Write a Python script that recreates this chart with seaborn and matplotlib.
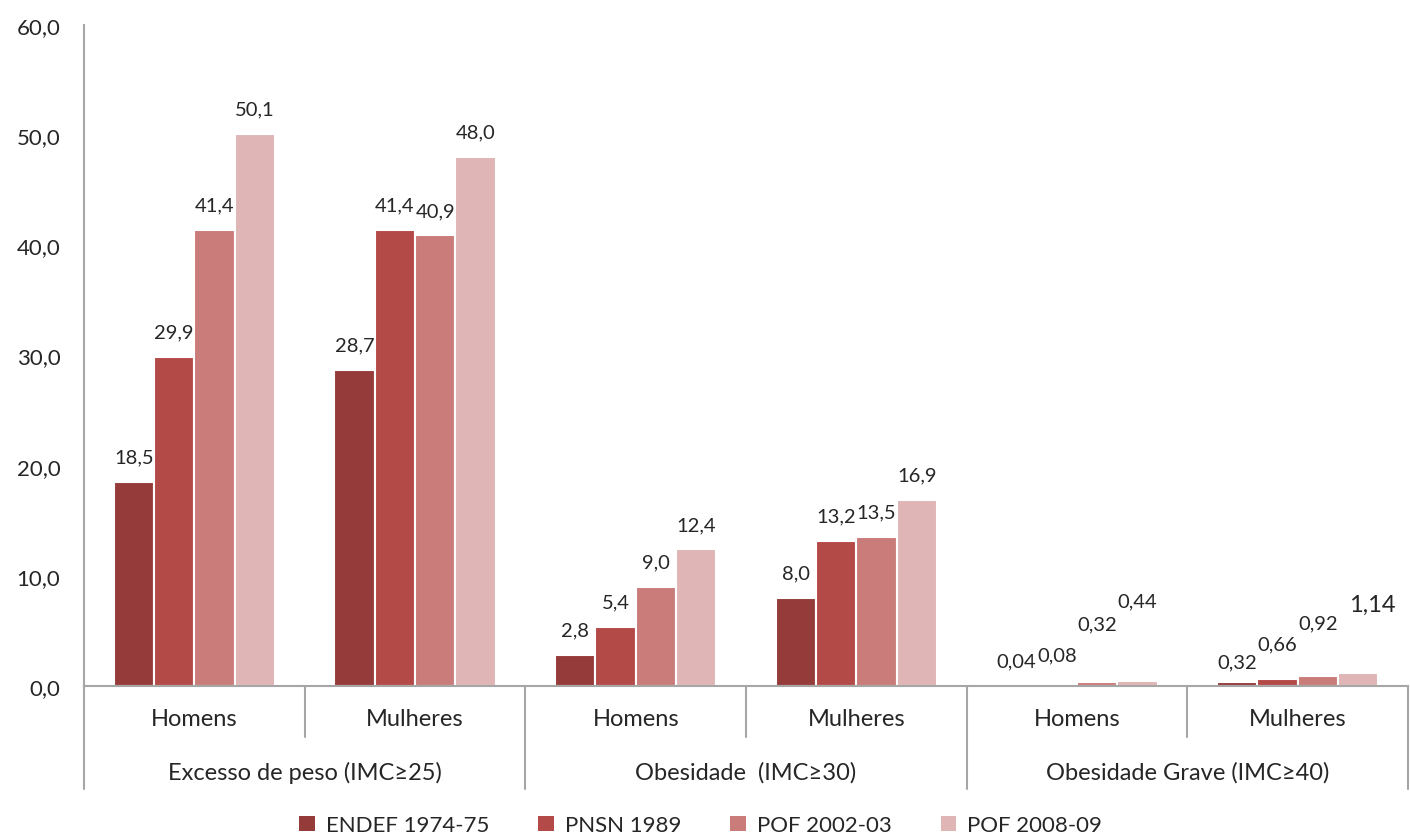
import pandas as pd
import seaborn as sns
import matplotlib.pyplot as plt
from matplotlib.ticker import FuncFormatter
from matplotlib.patches import Patch

grupos = ["Excesso de peso (IMC≥25)", "Obesidade  (IMC≥30)", "Obesidade Grave (IMC≥40)"]
sexos = ["Homens", "Mulheres"]
series = ["ENDEF 1974-75", "PNSN 1989", "POF 2002-03", "POF 2008-09"]
cores = ["#953B3A", "#B44A48", "#CA7C7B", "#DFB5B5"]

# one list per series, order: excesso H, excesso M, obes H, obes M, grave H, grave M
endef = [18.5, 28.7, 2.8, 8.0, 0.04, 0.32]
pnsn = [29.9, 41.4, 5.4, 13.2, 0.08, 0.66]
pof02 = [41.4, 40.9, 9.0, 13.5, 0.32, 0.92]
pof08 = [50.1, 48.0, 12.4, 16.9, 0.44, 1.14]

slots = [f"{g}|{s}" for g in grupos for s in sexos]
rows = []
for nome, vals in zip(series, [endef, pnsn, pof02, pof08]):
    for slot, v in zip(slots, vals):
        rows.append({"slot": slot, "serie": nome, "valor": v})
df = pd.DataFrame(rows)

sns.set_style("white")
plt.rcParams["font.family"] = ["Lato", "DejaVu Sans"]

fig = plt.figure(figsize=(14.1, 8.37), dpi=100)
ax = fig.add_axes([0.0596, 0.1792, 0.9390, 0.7898])

sns.barplot(data=df, x="slot", y="valor", hue="serie", order=slots,
            hue_order=series, palette=cores, width=0.73, edgecolor="white",
            linewidth=1.5, saturation=1, ax=ax)
ax.get_legend().remove()

ax.set_xlim(-0.5, 5.5)
ax.set_ylim(0, 60)
ax.set_yticks(range(0, 61, 10))
ax.yaxis.set_major_formatter(FuncFormatter(lambda v, p: f"{v:.1f}".replace(".", ",")))
ax.tick_params(axis="y", direction="out", length=7, color="#A6A6A6", labelsize=16, pad=10)
ax.tick_params(axis="x", length=0, labelbottom=False)
ax.set_xlabel("")
ax.set_ylabel("")
for sp in ["top", "right"]:
    ax.spines[sp].set_visible(False)
for sp in ["left", "bottom"]:
    ax.spines[sp].set_color("#A6A6A6")
    ax.spines[sp].set_linewidth(1.5)

# data labels (offsets in points above bar top)
pad_grave = [[18, 22, 42, 58], [15, 25, 38, 50]]
for j, cont in enumerate(ax.containers):
    for i, bar in enumerate(cont):
        v = bar.get_height()
        x = bar.get_x() + bar.get_width() / 2
        if i >= 4:
            txt = f"{v:.2f}".replace(".", ",")
            dy = pad_grave[i - 4][j]
        else:
            txt = f"{v:.1f}".replace(".", ",")
            dy = 18
        dx, fs = 0, 14.5
        if i == 5 and j == 3:
            dx, fs = 10, 17
        ax.annotate(txt, (x, v), xytext=(dx, dy), textcoords="offset points",
                    ha="center", va="center", fontsize=fs)

# multi-level category axis
blend = ax.get_xaxis_transform()
for i, slot in enumerate(slots):
    ax.text(i, -0.049, slot.split("|")[1], transform=blend, ha="center",
            va="center", fontsize=17)
for k, g in enumerate(grupos):
    ax.text(2 * k + 0.5, -0.13, g, transform=blend, ha="center",
            va="center", fontsize=17)
for x in [0.5, 2.5, 4.5]:
    ax.plot([x, x], [0, -0.077], transform=blend, color="#A6A6A6", lw=1.5, clip_on=False)
for x in [-0.5, 1.5, 3.5, 5.5]:
    ax.plot([x, x], [0, -0.156], transform=blend, color="#A6A6A6", lw=1.5, clip_on=False)

handles = [Patch(facecolor=c, edgecolor="none") for c in cores]
fig.legend(handles, series, loc="center", bbox_to_anchor=(0.497, 0.013), ncol=4,
           frameon=False, fontsize=16, handlelength=0.7, handleheight=0.7,
           handletextpad=0.5, columnspacing=2.2)

fig.savefig("out.png", dpi=100)
